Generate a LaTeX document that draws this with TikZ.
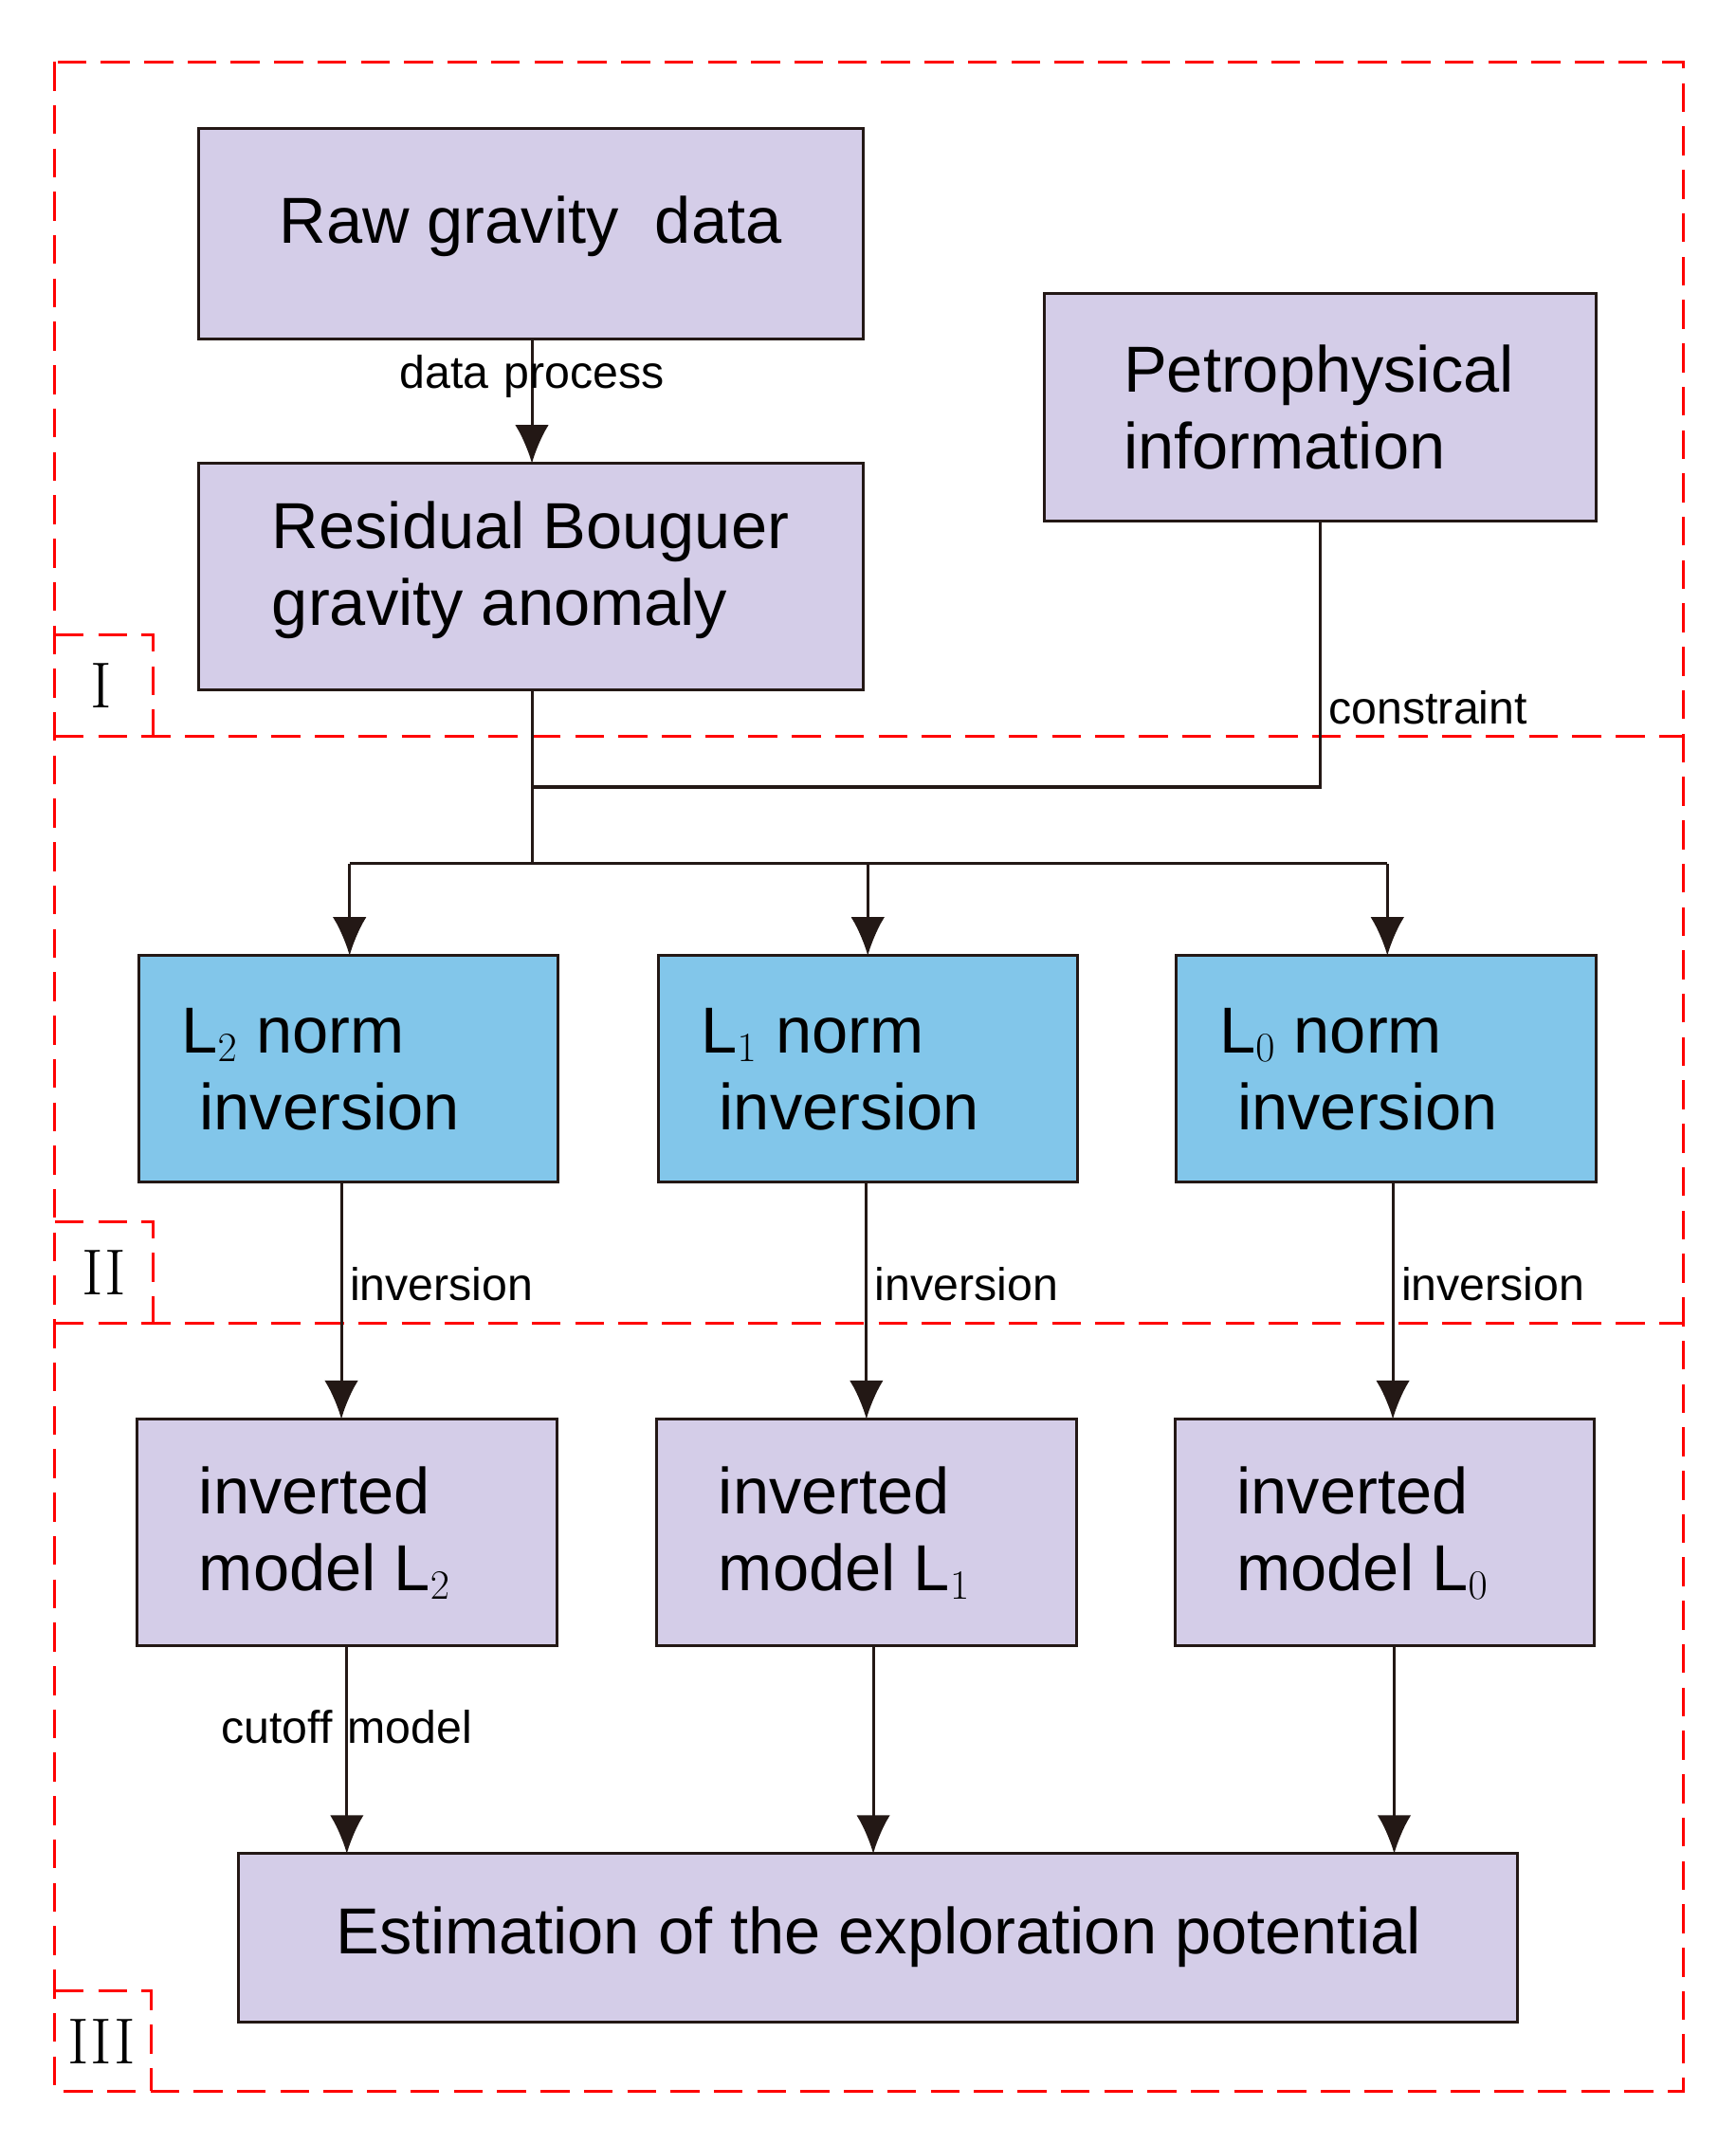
\documentclass[tikz,border=0pt]{standalone}
\usepackage{fontspec}
\setmainfont{Liberation Sans}
\newfontfamily\romfont{Latin Modern Roman}
\usetikzlibrary{arrows.meta}
\definecolor{lilac}{RGB}{212,205,232}
\definecolor{skyb}{RGB}{130,198,234}
\definecolor{darkline}{RGB}{35,24,21}
\begin{document}
\begin{tikzpicture}[x=0.02cm, y=-0.02cm,
            box/.style={draw=darkline, line width=1.2pt, fill=lilac, inner sep=0pt,
                font=\fontsize{27}{32}\selectfont, align=left},
            nbox/.style={box, fill=skyb},
            txt/.style={box, fill=none, draw=none},
            frame/.style={red, dash pattern=on 12pt off 6pt, line width=1.2pt},
            roman/.style={font=\fontsize{27}{30}\romfont},
            lab/.style={font=\fontsize{19}{22}\selectfont, inner sep=3pt},
            link/.style={draw=darkline, line width=1.2pt},
            arr/.style={link, -{Latex[length=16pt, width=14pt]}}]
    \useasboundingbox (0,0) rectangle (1266,1563);
    % frames
    \draw[frame] (40,45) rectangle (1228,1525);
    \draw[frame] (40,537) -- (1228,537);
    \draw[frame] (40,965) -- (1228,965);
    \draw[frame] (40,463) -| (112,537);
    \draw[frame] (40,891) -| (112,965);
    \draw[frame] (40,1452) -| (110,1525);
    \node[roman] (rI) at (74,500) {I};
    \node[roman] (rII) at (76,928) {II};
    \node[roman] (rIII) at (74,1489) {III};
    % boxes
    \path[box] (145,94) rectangle (630,247);
    \node[txt] (raw) at (387,165) {Raw gravity\; data};
    \path[box] (145,338) rectangle (630,503);
    \node[txt] (res) at (387,416) {Residual Bouguer\\gravity anomaly};
    \path[box] (762,214) rectangle (1164,380);
    \node[txt] (pet) at (962,297) {Petrophysical\\information};
    \foreach \x/\n [count=\i] in {101/2,480/1,858/0}{
        \path[nbox] (\x,697) rectangle ++(306,165);
        \node[txt] (norm\i) at (\x+133,780) {L$_{\n}$ norm\\\ inversion};
        \path[box] (\x-1,1035) rectangle ++(306,165);
        \node[txt] (mod\i) at (\x+136,1118) {inverted\\model L$_{\n}$};
    }
    \path[box] (174,1352) rectangle (1107,1475);
    \node[txt] (est) at (641,1413) {Estimation of the exploration potential};
    % connectors
    \coordinate (rawb) at (388,247);
    \coordinate (rest) at (388,338);
    \coordinate (resb) at (388,503);
    \coordinate (petb) at (963,380);
    \coordinate (join) at (388,574);
    \coordinate (split) at (388,630);
    \draw[arr] (rawb) -- (rest) node[pos=0.3, lab] {data\,\,process};
    \draw[link] (resb) -- (split);
    \draw[link] (petb) |- (join) node[pos=0.35, right, lab] {constraint};
    \draw[link] (255,630) -- (1012,630);
    \foreach \x in {255,633,1012} \draw[arr] (\x,630) -- (\x,697);
    \foreach \x in {249,632,1016} \draw[arr] (\x,862) -- (\x,1035)
        node[pos=0.43, right, lab] {inversion};
    \draw[arr] (253,1200) -- (253,1352) node[pos=0.39, lab] {cutoff\,\,model};
    \foreach \x in {637,1017} \draw[arr] (\x,1200) -- (\x,1352);
\end{tikzpicture}
\end{document}
